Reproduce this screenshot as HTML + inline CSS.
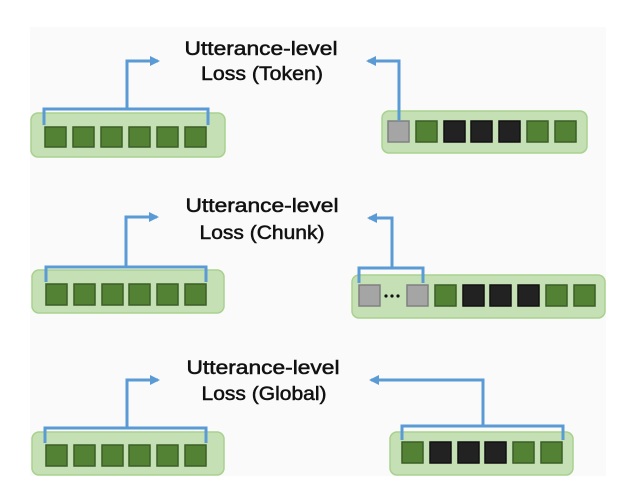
<!DOCTYPE html>
<html><head><style>html,body{margin:0;padding:0;background:#fff}svg{display:block}</style></head>
<body>
<svg width="627" height="498" viewBox="0 0 627 498" xmlns="http://www.w3.org/2000/svg" font-family="Liberation Sans, sans-serif">
<defs>
<marker id="ah" markerWidth="10" markerHeight="10" refX="8" refY="5" orient="auto" markerUnits="userSpaceOnUse">
<path d="M0,0 L10,5 L0,10 Z" fill="#5b9bd5"/>
</marker>
</defs>
<rect x="30" y="27" width="576" height="449" fill="#fafafa"/>
<g stroke-width="1.5">
<rect x="31" y="113" width="194" height="44" rx="7" fill="#c5e0b4" stroke="#a9d18e"/>
<rect x="382" y="111" width="205" height="42" rx="7" fill="#c5e0b4" stroke="#a9d18e"/>
<rect x="32" y="270" width="192" height="43" rx="7" fill="#c5e0b4" stroke="#a9d18e"/>
<rect x="352" y="275" width="253" height="43" rx="7" fill="#c5e0b4" stroke="#a9d18e"/>
<rect x="32" y="432" width="192" height="43" rx="7" fill="#c5e0b4" stroke="#a9d18e"/>
<rect x="390" y="432" width="183" height="43" rx="7" fill="#c5e0b4" stroke="#a9d18e"/>
</g>
<g stroke-width="1.5">
<g fill="#548235" stroke="#3b5e26">
<rect x="45" y="127" width="21" height="20"/><rect x="73" y="127" width="21" height="20"/><rect x="101" y="127" width="21" height="20"/><rect x="129" y="127" width="21" height="20"/><rect x="157" y="127" width="21" height="20"/><rect x="185" y="127" width="21" height="20"/>
</g>
<rect x="388" y="121" width="21" height="21" fill="#a5a5a5" stroke="#808080"/>
<rect x="416" y="121" width="21" height="21" fill="#548235" stroke="#3b5e26"/>
<g fill="#222" stroke="#111"><rect x="444" y="121" width="21" height="21"/><rect x="471" y="121" width="21" height="21"/><rect x="499" y="121" width="21" height="21"/></g>
<rect x="527" y="121" width="21" height="21" fill="#548235" stroke="#3b5e26"/>
<rect x="555" y="121" width="21" height="21" fill="#548235" stroke="#3b5e26"/>
<g fill="#548235" stroke="#3b5e26">
<rect x="46" y="284" width="21" height="21"/><rect x="74" y="284" width="21" height="21"/><rect x="102" y="284" width="21" height="21"/><rect x="129" y="284" width="21" height="21"/><rect x="157" y="284" width="21" height="21"/><rect x="185" y="284" width="21" height="21"/>
</g>
<rect x="359" y="285" width="21" height="21" fill="#a5a5a5" stroke="#808080"/>
<rect x="407" y="285" width="21" height="21" fill="#a5a5a5" stroke="#808080"/>
<rect x="435" y="285" width="21" height="21" fill="#548235" stroke="#3b5e26"/>
<g fill="#222" stroke="#111"><rect x="463" y="285" width="21" height="21"/><rect x="490" y="285" width="21" height="21"/><rect x="518" y="285" width="21" height="21"/></g>
<rect x="546" y="285" width="21" height="21" fill="#548235" stroke="#3b5e26"/>
<rect x="574" y="285" width="21" height="21" fill="#548235" stroke="#3b5e26"/>
<g fill="#548235" stroke="#3b5e26">
<rect x="46" y="445" width="21" height="21"/><rect x="74" y="445" width="21" height="21"/><rect x="102" y="445" width="21" height="21"/><rect x="129" y="445" width="21" height="21"/><rect x="157" y="445" width="21" height="21"/><rect x="185" y="445" width="21" height="21"/>
</g>
<rect x="402" y="442" width="21" height="21" fill="#548235" stroke="#3b5e26"/>
<g fill="#222" stroke="#111"><rect x="430" y="442" width="21" height="21"/><rect x="458" y="442" width="21" height="21"/><rect x="485" y="442" width="21" height="21"/></g>
<rect x="513" y="442" width="21" height="21" fill="#548235" stroke="#3b5e26"/>
<rect x="541" y="442" width="21" height="21" fill="#548235" stroke="#3b5e26"/>
</g>
<g fill="#111"><circle cx="386" cy="296" r="1.6"/><circle cx="392" cy="296" r="1.6"/><circle cx="398" cy="296" r="1.6"/></g>
<g fill="none" stroke="#5b9bd5" stroke-width="3">
<path d="M44,125 V109 H208 V125"/>
<path d="M127,109 V61 H158" marker-end="url(#ah)"/>
<path d="M399,121 V61 H368" marker-end="url(#ah)"/>
<path d="M46,282 V267 H206 V282"/>
<path d="M126,267 V217 H157" marker-end="url(#ah)"/>
<path d="M359,283 V268 H423 V283"/>
<path d="M392,268 V218 H369" marker-end="url(#ah)"/>
<path d="M45,443 V428 H206 V443"/>
<path d="M127,428 V380 H158" marker-end="url(#ah)"/>
<path d="M402,440 V426 H563 V440"/>
<path d="M483,426 V380 H371" marker-end="url(#ah)"/>
</g>
<g font-size="19" fill="#111" stroke="#111" stroke-width="0.5" text-anchor="middle">
<text x="261" y="55" textLength="153" lengthAdjust="spacingAndGlyphs">Utterance-level</text>
<text x="262" y="80" textLength="122" lengthAdjust="spacingAndGlyphs">Loss (Token)</text>
<text x="262" y="212" textLength="153" lengthAdjust="spacingAndGlyphs">Utterance-level</text>
<text x="262" y="239" textLength="125" lengthAdjust="spacingAndGlyphs">Loss (Chunk)</text>
<text x="263" y="374" textLength="153" lengthAdjust="spacingAndGlyphs">Utterance-level</text>
<text x="264" y="400" textLength="125" lengthAdjust="spacingAndGlyphs">Loss (Global)</text>
</g>
</svg>
</body></html>
